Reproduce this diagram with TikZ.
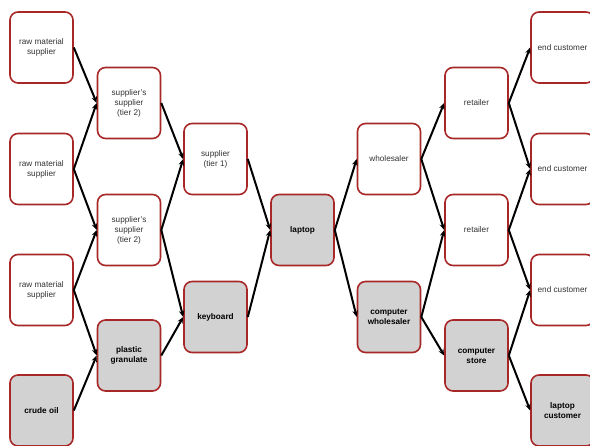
\documentclass[tikz,border=0pt]{standalone}
\usepackage{fontspec}
\setmainfont{Liberation Sans}
\usetikzlibrary{arrows.meta}
\definecolor{boxred}{HTML}{A82828}
\definecolor{boxgray}{HTML}{D2D2D2}
\definecolor{txtgray}{HTML}{333333}
\tikzset{
  wbox/.style={draw=boxred, line width=1.6pt, rounded corners=8pt, fill=white,
    minimum width=63pt, minimum height=71pt, inner sep=1pt, align=center,
    font=\fontsize{8.2}{10}\selectfont, text=txtgray},
  gbox/.style={wbox, fill=boxgray, text=black, font=\fontsize{8.2}{10}\selectfont\bfseries},
  flow/.style={draw=black, line width=2pt, -{Stealth[length=6.5pt,width=5.5pt]}}
}
\begin{document}
\begin{tikzpicture}[x=1pt,y=-1pt]
\useasboundingbox (0,0) rectangle (590,446);
\clip (0,0) rectangle (590,446);
% column 1
\node[wbox] (r1) at (41.5,47.5) {raw material\\supplier};
\node[wbox] (r2) at (41.5,169) {raw material\\supplier};
\node[wbox] (r3) at (41.5,290) {raw material\\supplier};
\node[gbox] (co) at (41.5,410.5) {crude oil};
% column 2
\node[wbox] (s1) at (129,103) {supplier's\\supplier\\(tier 2)};
\node[wbox] (s2) at (129,230) {supplier's\\supplier\\(tier 2)};
\node[gbox] (pg) at (129,355.5) {plastic\\granulate};
% column 3
\node[wbox] (t1) at (215.5,159) {supplier\\(tier 1)};
\node[gbox] (kb) at (215.5,317) {keyboard};
% column 4
\node[gbox] (lp) at (302.5,230) {laptop};
% column 5
\node[wbox] (wh) at (389,159) {wholesaler};
\node[gbox] (cw) at (389,317) {computer\\wholesaler};
% column 6
\node[wbox] (re1) at (476.5,103) {retailer};
\node[wbox] (re2) at (476.5,230) {retailer};
\node[gbox] (cs) at (476.5,355.5) {computer\\store};
% column 7
\node[wbox] (e1) at (562.5,47.5) {end customer};
\node[wbox] (e2) at (562.5,169) {end customer};
\node[wbox] (e3) at (562.5,290) {end customer};
\node[gbox] (lc) at (562.5,410.5) {laptop\\customer};
% connectors
\draw[flow] (r1.east) -- (s1.west);
\draw[flow] (r2.east) -- (s1.west);
\draw[flow] (r2.east) -- (s2.west);
\draw[flow] (r3.east) -- (s2.west);
\draw[flow] (r3.east) -- (pg.west);
\draw[flow] (co.east) -- (pg.west);
\draw[flow] (s1.east) -- (t1.west);
\draw[flow] (s2.east) -- (t1.west);
\draw[flow] (s2.east) -- (kb.west);
\draw[flow] (pg.east) -- (kb.west);
\draw[flow] (t1.east) -- (lp.west);
\draw[flow] (kb.east) -- (lp.west);
\draw[flow] (lp.east) -- (wh.west);
\draw[flow] (lp.east) -- (cw.west);
\draw[flow] (wh.east) -- (re1.west);
\draw[flow] (wh.east) -- (re2.west);
\draw[flow] (cw.east) -- (re2.west);
\draw[flow] (cw.east) -- (cs.west);
\draw[flow] (re1.east) -- (e1.west);
\draw[flow] (re1.east) -- (e2.west);
\draw[flow] (re2.east) -- (e2.west);
\draw[flow] (re2.east) -- (e3.west);
\draw[flow] (cs.east) -- (e3.west);
\draw[flow] (cs.east) -- (lc.west);
\end{tikzpicture}
\end{document}
